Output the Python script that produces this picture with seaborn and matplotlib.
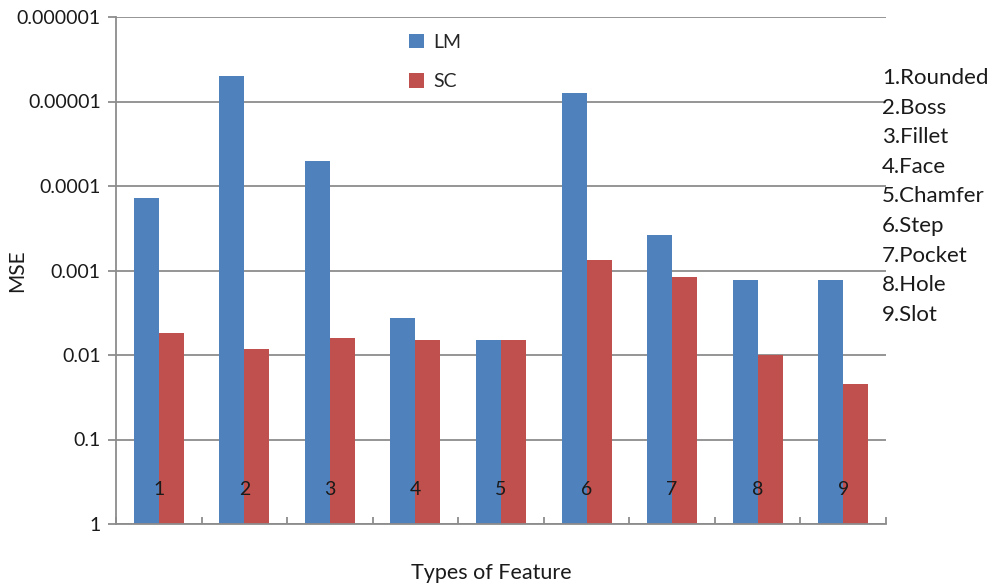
import numpy as np
import pandas as pd
import matplotlib
matplotlib.use("Agg")
import matplotlib.pyplot as plt
import seaborn as sns

# values (MSE, log axis drawn upside down)
categories = ["1", "2", "3", "4", "5", "6", "7", "8", "9"]
feature_names = ["Rounded", "Boss", "Fillet", "Face", "Chamfer", "Step", "Pocket", "Hole", "Slot"]
lm_mse = [1.4e-4, 5.0e-6, 5.0e-5, 3.6e-3, 6.6e-3, 7.9e-6, 3.8e-4, 1.3e-3, 1.3e-3]
sc_mse = [5.5e-3, 8.6e-3, 6.3e-3, 6.6e-3, 6.6e-3, 7.5e-4, 1.2e-3, 1.0e-2, 2.2e-2]
series = ["LM", "SC"]
colors = ["#4F81BD", "#C0504D"]
y_ticklabels = ["1", "0.1", "0.01", "0.001", "0.0001", "0.00001", "0.000001"]

df = pd.DataFrame({
    "feature": categories * 2,
    "mse": lm_mse + sc_mse,
    "method": ["LM"] * len(categories) + ["SC"] * len(categories),
})
# the axis runs from 1 at the bottom to 1e-6 at the top, so bars are drawn as -log10(mse)
df["depth"] = -np.log10(df["mse"])

sns.set_style("white")
plt.rcParams["font.family"] = ["Lato", "DejaVu Sans"]
txt = "#1a1a1a"
grid_c = "#8c8c8c"

fig = plt.figure(figsize=(9.97, 5.85), dpi=100)
ax = fig.add_axes([116 / 997, 1 - 524 / 585, 770 / 997, 507 / 585])

sns.barplot(data=df, x="feature", y="depth", hue="method", hue_order=series,
            palette=colors, width=0.584, gap=0, linewidth=0, saturation=1, ax=ax)

ax.set_ylim(0, len(y_ticklabels) - 1)
ax.set_xlim(-0.5, 8.5)
ax.set_yticks(range(len(y_ticklabels)))
ax.set_yticklabels(y_ticklabels)
ax.grid(axis="y", which="major", color=grid_c, linewidth=1.3)
ax.set_axisbelow(True)

for s in ["top", "right"]:
    ax.spines[s].set_visible(False)
for s in ["left", "bottom"]:
    ax.spines[s].set_color(grid_c)
    ax.spines[s].set_linewidth(1.3)

ax.tick_params(axis="y", which="major", left=True, direction="out", length=6, width=1.3,
               color=grid_c, labelsize=14, labelcolor=txt, pad=5)
ax.set_xticks(range(len(categories)))
ax.set_xticklabels([])
ax.tick_params(axis="x", which="major", length=0)
ax.set_xticks(np.arange(-0.5, 9, 1), minor=True)
ax.tick_params(axis="x", which="minor", bottom=True, direction="in", length=5, width=1.3, color=grid_c)

# category numbers sit inside the plot, on top of the bars, just above the baseline
for i, cat in enumerate(categories):
    ax.text(i, 0.069, cat, transform=ax.get_xaxis_transform(), ha="center", va="center",
            fontsize=14, color=txt, zorder=5)

ax.set_xlabel("Types of Feature", fontsize=15.5, color=txt)
ax.xaxis.set_label_coords(0.487, -0.076)
ax.set_ylabel("MSE", fontsize=15, color=txt)
ax.yaxis.set_label_coords(-0.116, 0.5)

ax.legend(loc="upper left", bbox_to_anchor=(409 / 997, 1 - 34 / 585),
          bbox_transform=fig.transFigure, frameon=False, fontsize=14,
          handlelength=0.75, handleheight=0.75, handletextpad=0.5,
          labelspacing=1.15, borderpad=0, borderaxespad=0)

for i, name in enumerate(feature_names):
    fig.text(882 / 997, 1 - (78 + 29.6 * i) / 585, f"{i + 1}.{name}",
             fontsize=16, color=txt, va="center", ha="left")

fig.savefig("out.png", dpi=100)
